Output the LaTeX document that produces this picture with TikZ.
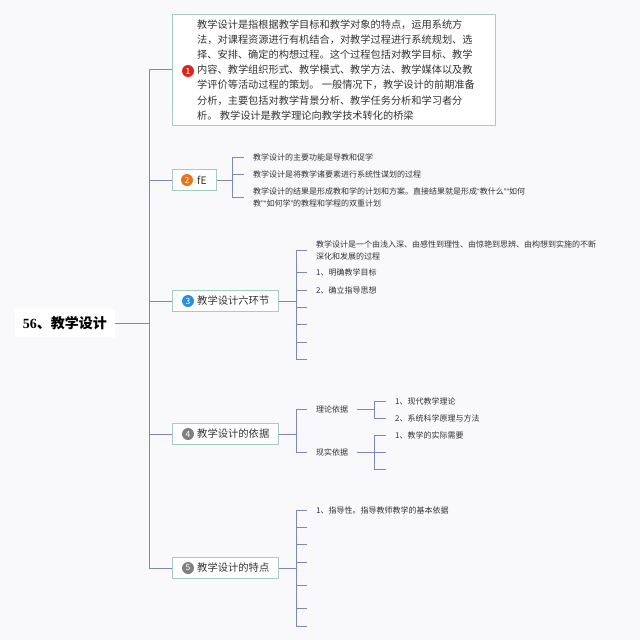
\documentclass[tikz,border=0pt]{standalone}
\usepackage{fontspec}
\setmainfont{Noto Sans CJK SC}
\newfontfamily\rootlat{Liberation Serif}
\newfontfamily\lat{Liberation Sans}
\definecolor{bgc}{HTML}{F9F9FC}
\definecolor{linec}{HTML}{7F86BC}
\definecolor{boxc}{HTML}{A6CCC0}
\definecolor{txt}{HTML}{333333}
\definecolor{bred}{HTML}{D9261C}
\definecolor{borange}{HTML}{E8731A}
\definecolor{bblue}{HTML}{2B8FE0}
\definecolor{bgray}{HTML}{808080}
\newcommand{\myoq}{{\lat “}}
\newcommand{\mycq}{{\lat ”}}
\begin{document}
\begin{tikzpicture}[x=1pt,y=-1pt,
  link/.style={draw=linec, line width=0.9pt},
  mbox/.style={draw=boxc, fill=white, line width=0.8pt, minimum height=21, minimum width=106, anchor=west, inner sep=0},
  badge/.style={circle, fill=#1, text=white, minimum size=12, inner sep=0, font=\fontsize{8.5}{8.5}\selectfont},
  lbl/.style={anchor=west, inner sep=0, text=txt, font=\fontsize{10.3}{12}\selectfont},
  item/.style={anchor=west, inner xsep=0, inner ysep=1, text=txt, font=\fontsize{8}{12}\selectfont, align=left}]
\useasboundingbox (0,0) rectangle (640,640);
\fill[bgc] (0,0) rectangle (640,640);

% root
\node[fill=white, inner xsep=8, inner ysep=7, anchor=east, text=black, font=\bfseries\fontsize{14}{14}\selectfont] (root) at (115,323) {{\rootlat\bfseries 56}、教学设计};
\coordinate (tr) at (149,323);
\draw[link] (root.east) -- (tr);

% box 1
\node[draw=boxc, fill=white, line width=0.8pt, minimum width=323, minimum height=111, anchor=north west, inner sep=0] (b1) at (172,14) {};
\node[anchor=west, align=left, inner sep=0, text=txt, font=\fontsize{10.2}{15.1}\selectfont] (t1) at (197,70) {教学设计是指根据教学目标和教学对象的特点，运用系统方\\法，对课程资源进行有机结合，对教学过程进行系统规划、选\\择、安排、确定的构想过程。这个过程包括对教学目标、教学\\内容、教学组织形式、教学模式、教学方法、教学媒体以及教\\学评价等活动过程的策划。 一般情况下，教学设计的前期准备\\分析，主要包括对教学背景分析、教学任务分析和学习者分\\析。 教学设计是教学理论向教学技术转化的桥梁};
\node[badge=bred] (k1) at (188,71) {1};
\draw[link] (b1.west) -| (tr);

% box 2
\node[mbox, minimum width=44] (b2) at (172,180) {};
\node[badge=borange] (k2) at (187,180) {2};
\node[lbl] (l2) at (197,180) {fE};
\draw[link] (b2.west) -| (tr);
\coordinate (j2) at (232,180);
\draw[link] (b2.east) -- (j2);
\node[item] (i21) at (253,157) {教学设计的主要功能是导教和促学};
\node[item] (i22) at (253,174) {教学设计是将教学诸要素进行系统性谋划的过程};
\node[item] (i23) at (253,197) {教学设计的结果是形成教和学的计划和方案。直接结果就是形成\myoq 教什么\mycq\myoq 如何\\教\mycq\myoq 如何学\mycq 的教程和学程的双重计划};
\foreach \n in {i21,i22,i23} \draw[link, shorten >=9pt] (j2) |- (\n.west);

% box 3
\node[mbox] (b3) at (172,301) {};
\node[badge=bblue] (k3) at (188,301) {3};
\node[lbl] (l3) at (197,301) {教学设计六环节};
\draw[link] (b3.west) -| (tr);
\coordinate (j3) at (296,301);
\draw[link] (b3.east) -- (j3);
\node[item] (i31) at (316,250) {教学设计是一个由浅入深、由感性到理性、由惊艳到思辨、由构想到实施的不断\\深化和发展的过程};
\node[item] (i32) at (316,272) {1、明确教学目标};
\node[item] (i33) at (316,290) {2、确立指导思想};
\foreach \n in {i31,i32,i33} \draw[link, shorten >=9pt] (j3) |- (\n.west);
\coordinate (e34) at (307,307);
\coordinate (e35) at (307,324);
\coordinate (e36) at (307,342);
\coordinate (e37) at (307,359);
\foreach \n in {e34,e35,e36,e37} \draw[link] (j3) |- (\n);

% box 4
\node[mbox] (b4) at (172,434) {};
\node[badge=bgray] (k4) at (188,434) {4};
\node[lbl] (l4) at (197,434) {教学设计的依据};
\draw[link] (b4.west) -| (tr);
\coordinate (j4) at (296,434);
\draw[link] (b4.east) -- (j4);
\node[item] (i41) at (316,409) {理论依据};
\node[item] (i42) at (316,452) {现实依据};
\foreach \n in {i41,i42} \draw[link, shorten >=9pt] (j4) |- (\n.west);
\coordinate (j41) at (374,409);
\draw[link, shorten <=9pt] (i41.east) -- (j41);
\node[item] (i411) at (395,401) {1、现代教学理论};
\node[item] (i412) at (395,418) {2、系统科学原理与方法};
\foreach \n in {i411,i412} \draw[link, shorten >=9pt] (j41) |- (\n.west);
\coordinate (j42) at (374,452);
\draw[link, shorten <=9pt] (i42.east) -- (j42);
\node[item] (i421) at (395,435) {1、教学的实际需要};
\draw[link, shorten >=9pt] (j42) |- (i421.west);
\coordinate (e422) at (386,452);
\coordinate (e423) at (386,469);
\foreach \n in {e422,e423} \draw[link] (j42) |- (\n);

% box 5
\node[mbox] (b5) at (172,568) {};
\node[badge=bgray] (k5) at (188,568) {5};
\node[lbl] (l5) at (197,568) {教学设计的特点};
\draw[link] (b5.west) -| (tr);
\coordinate (j5) at (296,568);
\draw[link] (b5.east) -- (j5);
\node[item] (i51) at (316,510) {1、指导性。指导教师教学的基本依据};
\draw[link, shorten >=9pt] (j5) |- (i51.west);
\coordinate (e52) at (307,527);
\coordinate (e53) at (307,544);
\coordinate (e54) at (307,562);
\coordinate (e55) at (307,585);
\coordinate (e56) at (307,608);
\coordinate (e57) at (307,626);
\foreach \n in {e52,e53,e54,e55,e56,e57} \draw[link] (j5) |- (\n);
\end{tikzpicture}
\end{document}
